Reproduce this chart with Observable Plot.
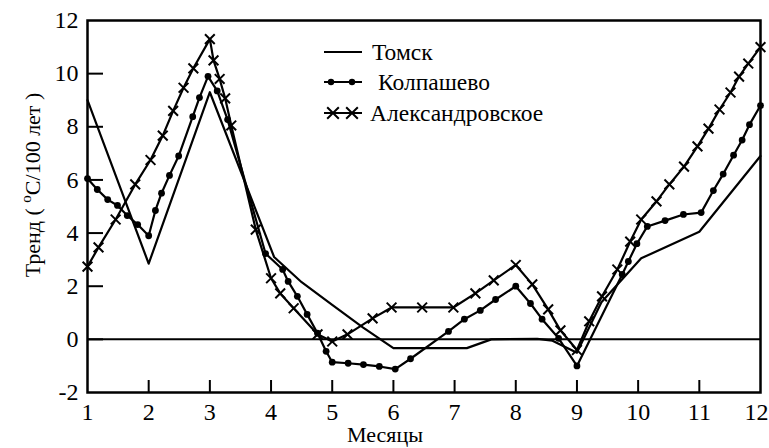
<!DOCTYPE html>
<html><head><meta charset="utf-8">
<script src="https://cdn.jsdelivr.net/npm/d3@7"></script>
<script src="https://cdn.jsdelivr.net/npm/@observablehq/plot@0.6"></script>
<style>body{margin:0;background:#fff} #chart{position:relative;width:769px;height:448px;overflow:hidden}</style>
</head><body><div id="chart"></div>
<script>
const seriesNames = ["Томск", "Колпашево", "Александровское"];

const tomskMonth = [1, 2, 3, 4.05, 4.5, 5, 5.5, 6, 7.2, 7.6, 8.35, 8.6, 9, 9.4, 10.05, 11, 12];
const tomskTrend = [9.0, 2.85, 9.3, 3.1, 2.15, 1.3, 0.45, -0.33, -0.33, 0.0, 0.02, -0.05, -0.5, 1.4, 3.05, 4.05, 6.9];

const kolpMonth = [1, 1.16, 1.33, 1.49, 1.65, 1.82, 2, 2.11, 2.21, 2.34, 2.49, 2.72, 2.83, 2.97, 3.12, 3.29, 3.91, 4.19, 4.28, 4.43, 4.59, 4.76, 4.9, 5, 5.26, 5.51, 5.77, 6.03, 6.28, 6.9, 7.16, 7.42, 7.67, 8, 8.24, 8.43, 8.7, 9, 9.74, 9.84, 9.98, 10.15, 10.44, 10.74, 11.03, 11.23, 11.39, 11.56, 11.7, 11.82, 12];
const kolpTrend = [6.05, 5.64, 5.26, 5.04, 4.66, 4.32, 3.9, 4.85, 5.5, 6.17, 6.9, 8.38, 9.1, 9.9, 9.35, 8.27, 3.23, 2.63, 2.18, 1.62, 0.94, 0.23, -0.45, -0.86, -0.9, -0.95, -1.02, -1.12, -0.73, 0.3, 0.76, 1.09, 1.5, 2.0, 1.35, 0.76, 0.04, -1.0, 2.44, 2.93, 3.6, 4.25, 4.47, 4.7, 4.77, 5.6, 6.22, 6.93, 7.5, 8.08, 8.8];

const alexMonth = [1, 1.18, 1.46, 1.78, 2.03, 2.23, 2.4, 2.57, 2.73, 3, 3.06, 3.16, 3.25, 3.35, 3.75, 4, 4.15, 4.37, 4.76, 5, 5.25, 5.66, 5.97, 6.47, 6.98, 7.34, 7.64, 8, 8.27, 8.53, 8.73, 9, 9.2, 9.41, 9.66, 9.87, 10.05, 10.3, 10.51, 10.75, 10.97, 11.15, 11.33, 11.51, 11.65, 11.8, 12];
const alexTrend = [2.74, 3.46, 4.51, 5.83, 6.75, 7.67, 8.6, 9.47, 10.2, 11.3, 10.5, 9.8, 9.07, 8.05, 4.13, 2.3, 1.73, 1.17, 0.19, -0.08, 0.19, 0.79, 1.2, 1.2, 1.2, 1.73, 2.22, 2.8, 2.07, 1.13, 0.34, -0.4, 0.68, 1.62, 2.63, 3.68, 4.51, 5.19, 5.83, 6.5, 7.26, 7.93, 8.65, 9.29, 9.89, 10.38, 11.0];

const xTicks = [1, 2, 3, 4, 5, 6, 7, 8, 9, 10, 11, 12];
const yTicks = [-2, 0, 2, 4, 6, 8, 10, 12];
const xLabel = "Месяцы";
const yLabelParts = ["Тренд ( ", "o", "C/100 лет )"];

const toRows = (name, ms, vs) => ms.map((m, i) => ({series: name, month: m, trend: vs[i]}));
const tomskRows = toRows(seriesNames[0], tomskMonth, tomskTrend);
const kolpRows = toRows(seriesNames[1], kolpMonth, kolpTrend);
const alexRows = toRows(seriesNames[2], alexMonth, alexTrend);
const allRows = [...tomskRows, ...kolpRows, ...alexRows];

const font = "'Liberation Serif', 'DejaVu Serif', serif";
const W = 769, H = 448, mL = 87, mR = 9, mT = 20, mB = 56;
const innerW = W - mL - mR, innerH = H - mT - mB;

const plot = Plot.plot({
  width: W, height: H,
  marginLeft: mL, marginRight: mR, marginTop: mT, marginBottom: mB,
  x: {domain: [1, 12]},
  y: {domain: [-2, 12]},
  style: {fontFamily: font, fontSize: "24px", color: "#000", background: "#fff"},
  marks: [
    Plot.ruleY([0], {stroke: "#000", strokeWidth: 2}),
    Plot.axisX({ticks: xTicks.slice(0, -1), tickSize: 0, tickPadding: 10, label: null, tickFormat: d => String(d)}),
    Plot.axisX({ticks: xTicks.slice(-1), tickSize: 0, tickPadding: 10, label: null, textAnchor: "end", dx: 8, tickFormat: d => String(d)}),
    Plot.tickX(xTicks.slice(1, -1), {x: d => d, stroke: "#000", strokeWidth: 2, insetTop: innerH - 12}),
    Plot.axisY({ticks: yTicks, tickSize: 0, tickPadding: 9, label: null, tickFormat: d => String(d)}),
    Plot.tickY(yTicks.slice(1, -1), {y: d => d, stroke: "#000", strokeWidth: 2, insetRight: innerW - 16}),
    Plot.line(allRows, {x: "month", y: "trend", z: "series", stroke: "#000", strokeWidth: 2.2, curve: "linear"}),
    Plot.dot(kolpRows, {x: "month", y: "trend", r: 3.4, fill: "#000", stroke: null}),
    Plot.dot(alexRows, {x: "month", y: "trend", symbol: "times", r: 4.5, stroke: "#000", strokeWidth: 2}),
    Plot.frame({stroke: "#000", strokeWidth: 2.5})
  ]
});
document.getElementById("chart").appendChild(plot);

const svg = d3.select(plot);
// y-axis title with superscript
const yl = svg.append("text")
  .attr("transform", "translate(40,185) rotate(-90)")
  .attr("text-anchor", "middle")
  .style("font-family", font).attr("font-size", 22).attr("fill", "#000");
yl.append("tspan").text(yLabelParts[0]);
yl.append("tspan").attr("font-size", 15).attr("dy", -9).text(yLabelParts[1]);
yl.append("tspan").attr("dy", 9).text(yLabelParts[2]);

// x-axis title
svg.append("text").attr("x", 385).attr("y", 442).attr("text-anchor", "middle")
  .style("font-family", font).attr("font-size", 22).attr("fill", "#000").text(xLabel);

// legend
const lg = svg.append("g").style("font-family", font).attr("font-size", 23.5).attr("fill", "#000").attr("text-anchor", "start");
const legendRows = [
  {name: seriesNames[0], y: 52, tx: 372, marker: null},
  {name: seriesNames[1], y: 82, tx: 378, marker: "dot"},
  {name: seriesNames[2], y: 113, tx: 370, marker: "times"}
];
legendRows.forEach(r => {
  lg.append("line").attr("x1", 324).attr("x2", 362).attr("y1", r.y).attr("y2", r.y)
    .attr("stroke", "#000").attr("stroke-width", 2.2);
  if (r.marker === "dot") {
    [331, 352].forEach(cx => lg.append("circle").attr("cx", cx).attr("cy", r.y).attr("r", 3.2).attr("fill", "#000"));
  } else if (r.marker === "times") {
    [333, 352].forEach(cx => lg.append("path")
      .attr("d", d3.symbol(d3.symbolTimes, 90)())
      .attr("transform", `translate(${cx},${r.y})`)
      .attr("stroke", "#000").attr("stroke-width", 2).attr("fill", "none"));
  }
  lg.append("text").attr("x", r.tx).attr("y", r.y + 8).attr("text-anchor", "start").text(r.name);
});
</script>
</body></html>
